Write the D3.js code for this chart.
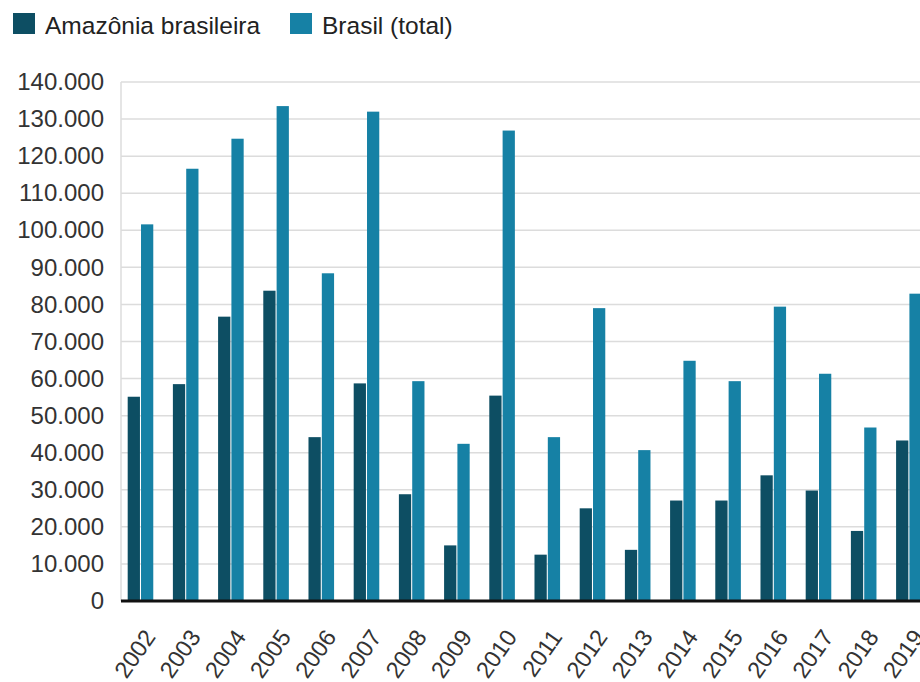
<!DOCTYPE html>
<html>
<head>
<meta charset="utf-8">
<script src="https://cdn.jsdelivr.net/npm/d3@7"></script>
<style>
  html, body { margin: 0; padding: 0; background: #fff; }
  svg { display: block; font-family: "Liberation Sans", Arial, sans-serif; }
</style>
</head>
<body>
<svg id="chart" width="920" height="682"></svg>
<script>
// Focos de queimadas por ano
const years = ["2002","2003","2004","2005","2006","2007","2008","2009","2010","2011",
               "2012","2013","2014","2015","2016","2017","2018","2019"];
const amazonia = [55100, 58500, 76700, 83700, 44200, 58700, 28800, 15000, 55400, 12500,
                  25000, 13800, 27100, 27100, 33900, 29800, 18900, 43300];
const brasil   = [101600, 116600, 124700, 133500, 88400, 132000, 59300, 42400, 126900, 44200,
                  79000, 40700, 64800, 59300, 79400, 61300, 46800, 82900];
const seriesNames = ["Amazônia brasileira", "Brasil (total)"];
const seriesColors = ["#0d4e63", "#1681a5"];
const yTicks = [0, 10000, 20000, 30000, 40000, 50000, 60000, 70000,
                80000, 90000, 100000, 110000, 120000, 130000, 140000];

const svg = d3.select("#chart");
const W = 920, H = 682;
const plot = { left: 121, top: 82, bottom: 601 };
const step = 45.2;
const padIn = 0.434, padOut = 0.148;

const y = d3.scaleLinear().domain([0, 140000]).range([plot.bottom, plot.top]);
const x0 = d3.scaleBand().domain(years)
  .range([plot.left, plot.left + step * (years.length - padIn + 2 * padOut)])
  .paddingInner(padIn).paddingOuter(padOut);
const x1 = d3.scaleBand().domain(seriesNames).range([0, x0.bandwidth()]).paddingInner(0.08);

const fmt = v => d3.format(",")(v).replace(/,/g, ".");

// grid + y labels
const yAxis = d3.axisLeft(y).tickValues(yTicks).tickFormat(fmt).tickSize(0).tickPadding(17);
const gy = svg.append("g").attr("transform", `translate(${plot.left},0)`).call(yAxis);
gy.select(".domain").remove();
gy.selectAll("text").attr("font-size", 24).attr("fill", "#333")
  .attr("font-family", "'Liberation Sans', Arial, sans-serif");

svg.append("g").selectAll("line").data(yTicks.filter(d => d > 0)).join("line")
  .attr("x1", plot.left).attr("x2", W)
  .attr("y1", d => y(d)).attr("y2", d => y(d))
  .attr("stroke", "#dcdcdc").attr("stroke-width", 1.5);

svg.append("line")
  .attr("x1", plot.left).attr("x2", plot.left)
  .attr("y1", plot.top).attr("y2", plot.bottom)
  .attr("stroke", "#dcdcdc").attr("stroke-width", 1.5);

// bars
const rows = years.map((yr, i) => ({ year: yr, values: [amazonia[i], brasil[i]] }));
const groups = svg.append("g").selectAll("g").data(rows).join("g")
  .attr("transform", d => `translate(${x0(d.year)},0)`);
groups.selectAll("rect").data(d => d.values.map((v, k) => ({ key: seriesNames[k], v, k })))
  .join("rect")
  .attr("x", d => x1(d.key))
  .attr("width", x1.bandwidth())
  .attr("y", d => y(d.v))
  .attr("height", d => y(0) - y(d.v))
  .attr("fill", d => seriesColors[d.k]);

// baseline
svg.append("line")
  .attr("x1", plot.left).attr("x2", W)
  .attr("y1", plot.bottom).attr("y2", plot.bottom)
  .attr("stroke", "#111").attr("stroke-width", 3);

// x labels
const xAxis = d3.axisBottom(x0).tickSize(0).tickPadding(0);
const gx = svg.append("g").attr("transform", `translate(0,${plot.bottom})`).call(xAxis);
gx.select(".domain").remove();
gx.selectAll("text")
  .attr("font-size", 23.5).attr("fill", "#333")
  .attr("font-family", "'Liberation Sans', Arial, sans-serif")
  .attr("text-anchor", "end")
  .attr("dy", 0)
  .attr("transform", "translate(16,36) rotate(-55)");

// legend
const legend = svg.append("g");
const legendX = [13, 290];
seriesNames.forEach((name, i) => {
  legend.append("rect").attr("x", legendX[i]).attr("y", 13).attr("width", 22).attr("height", 21)
    .attr("fill", seriesColors[i]);
  legend.append("text").attr("x", legendX[i] + 32).attr("y", 34)
    .attr("font-size", 24.5).attr("fill", "#222").text(name);
});
</script>
</body>
</html>
